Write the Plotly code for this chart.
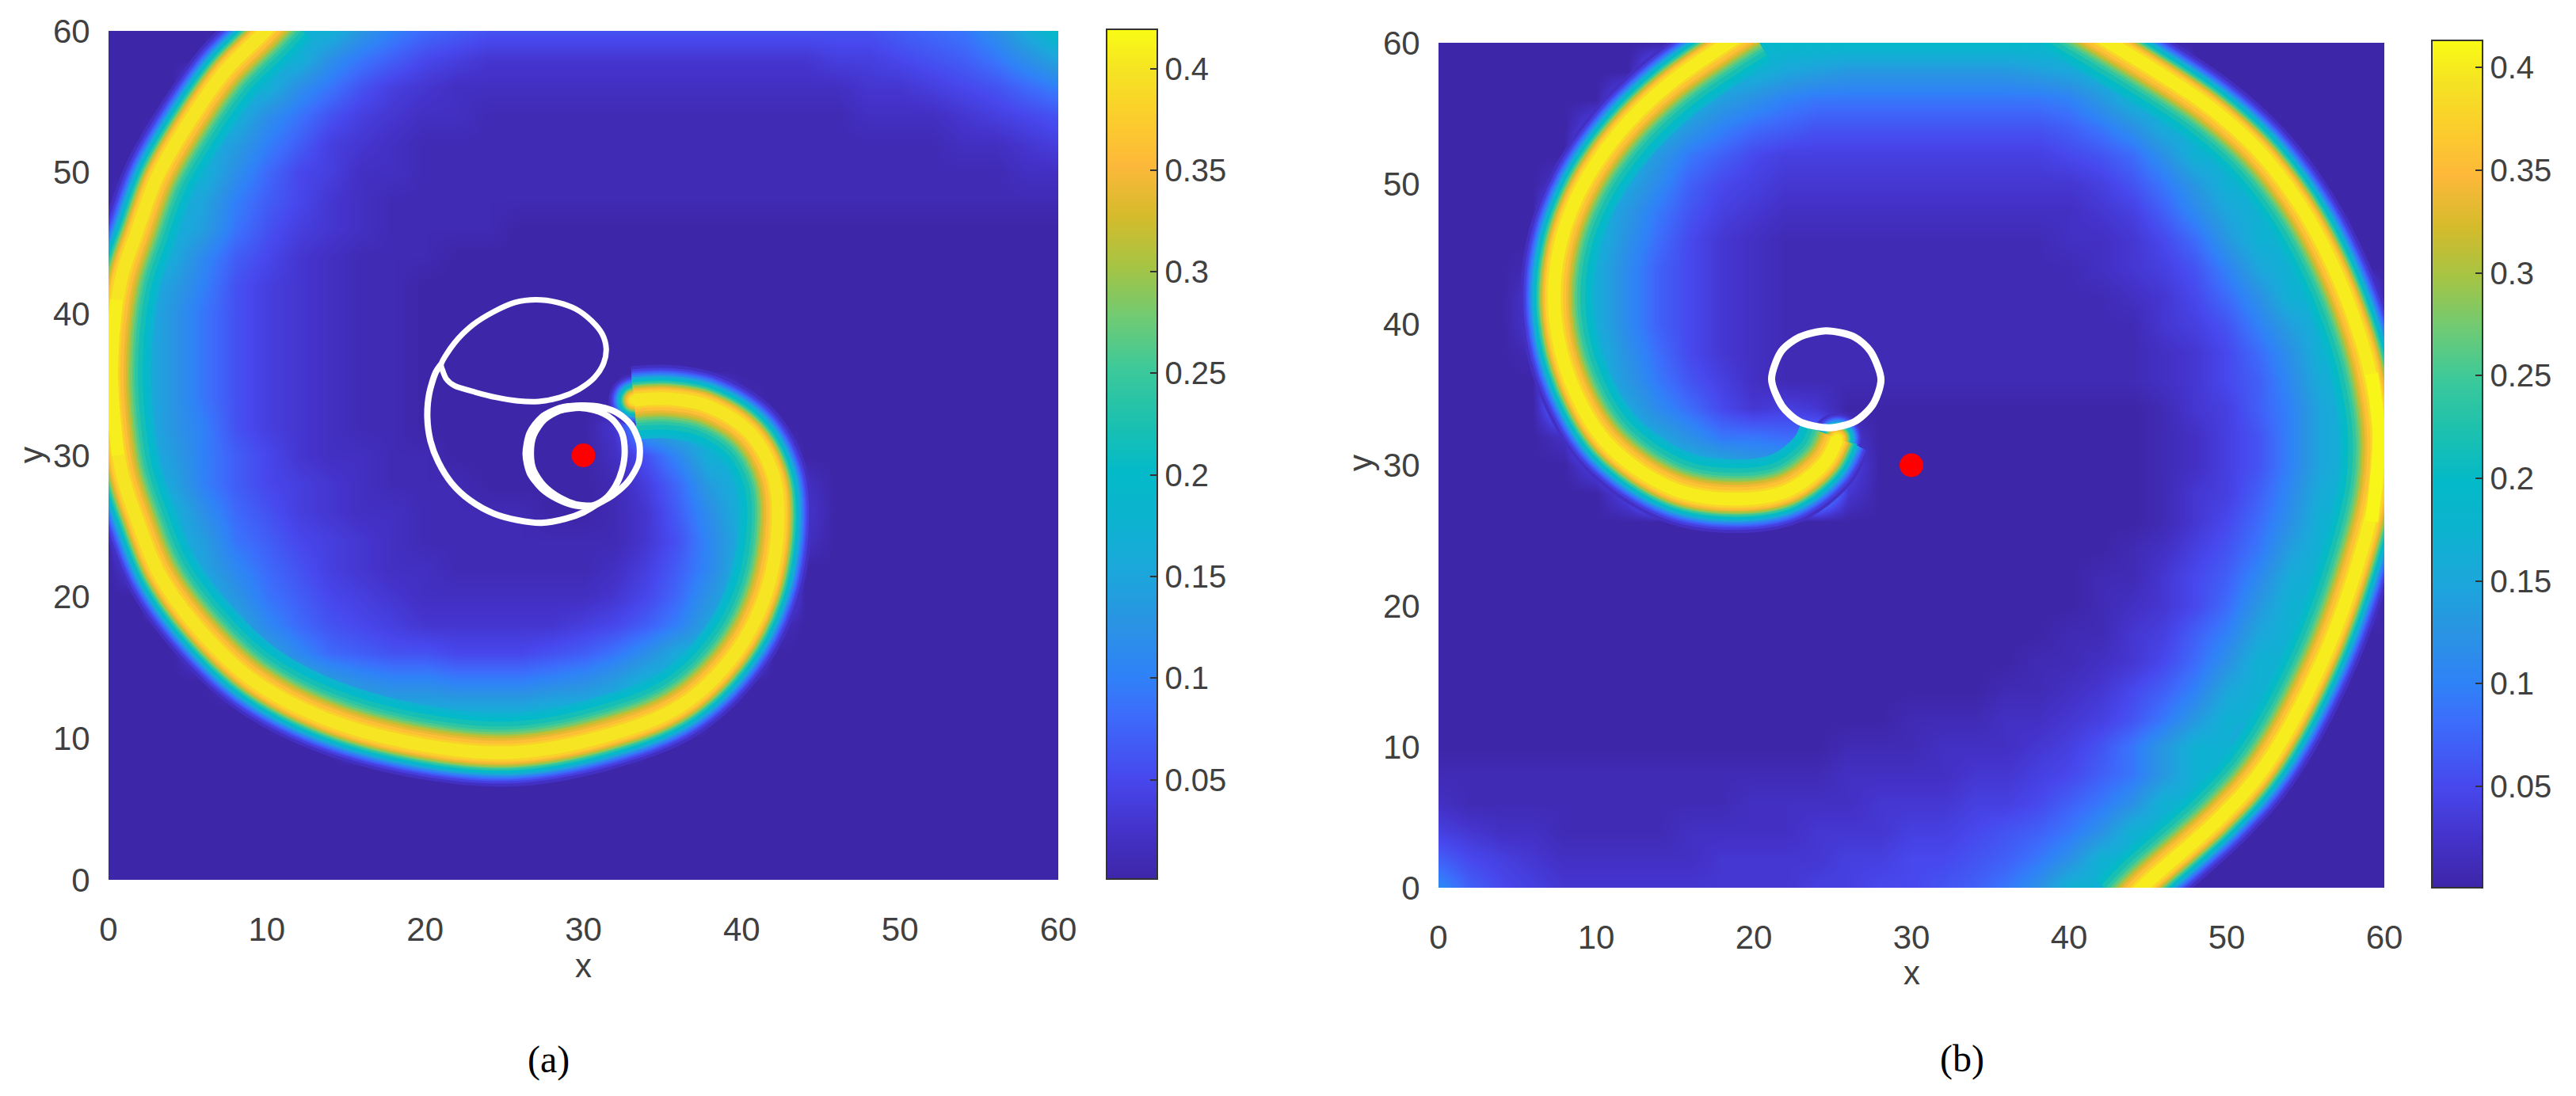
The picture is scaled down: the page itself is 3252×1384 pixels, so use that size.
"""Two spiral-wave snapshots, panels (a) and (b), with tip trajectories.

Ridge centre lines, tail values and trajectories are read off the picture by eye.
The colour field is a coarse heatmap for the tails, with the narrow ridge drawn
on top as stacked lines along its centre line (no formula for the field).
"""

import plotly.graph_objects as go
from plotly.colors import sample_colorscale

W, H = 3252, 1384
PAGE_MARGIN = 8  # the browser's default body margin
GRID = list(range(0, 61, 2))
TICKS = [0, 10, 20, 30, 40, 50, 60]
CBAR_TICKS = [0.05, 0.1, 0.15, 0.2, 0.25, 0.3, 0.35, 0.4]
CBAR_LABELS = ["0.05", "0.1", "0.15", "0.2", "0.25", "0.3", "0.35", "0.4"]

RANGE_A = (0.0012, 0.4193)
RANGE_B = (0.0006, 0.4133)

PARULA = [
    [0.00, "#3E26A8"], [0.06, "#4433CB"], [0.12, "#4748EE"], [0.20, "#3B6FFB"],
    [0.24, "#2F82F7"], [0.30, "#2A93E3"], [0.36, "#1CA6DB"], [0.42, "#0DB3D0"],
    [0.48, "#03BAC8"], [0.54, "#1DC1AE"], [0.60, "#3CC99A"], [0.66, "#6FCB74"],
    [0.72, "#A5C444"], [0.78, "#D5BB2C"], [0.84, "#FDB83A"], [0.90, "#FBCF2B"],
    [0.95, "#F5E323"], [1.00, "#F9FB15"],
]

# tail values in hundredths, rows from y=60 down to y=0, columns x=0,2,...,60
# (short rows: the rest of the row is the dark base value)
TAIL_A = [
    [0, 0, 0, 0, 0, 17, 17, 17, 13, 10, 8, 7, 6, 6, 6, 6, 6, 6, 6, 6, 6, 6, 6, 6, 6, 7, 8, 9, 12, 16, 20],
    [0, 0, 0, 0, 17, 17, 17, 12, 9, 7, 5, 4, 3, 3, 3, 3, 3, 3, 3, 3, 3, 3, 3, 4, 4, 5, 6, 7, 9, 12, 15],
    [0, 0, 0, 10, 17, 17, 12, 9, 6, 4, 3, 2, 2, 2, 2, 2, 2, 2, 2, 2, 2, 2, 2, 2, 3, 3, 4, 5, 6, 8, 10],
    [0, 0, 0, 17, 17, 12, 9, 6, 4, 3, 2, 2, 1, 1, 1, 1, 1, 1, 1, 1, 1, 1, 1, 1, 2, 2, 2, 3, 4, 5, 6],
    [0, 0, 10, 17, 14, 10, 7, 4, 3, 2, 1, 1, 1, 1, 1, 1, 1, 1, 1, 1, 1, 1, 1, 1, 1, 1, 1, 2, 2, 3, 4],
    [0, 0, 17, 17, 12, 8, 5, 4, 2, 2, 1, 1, 1, 1, 1, 1, 1, 1, 1, 1, 1, 1, 1, 1, 1, 1, 1, 1, 1, 2, 2],
    [0, 5, 17, 15, 10, 7, 5, 3, 2, 1, 1, 1, 1, 1, 1, 1, 1, 1, 1, 1, 1, 1, 1, 1, 1, 1, 1, 1, 1, 1, 1],
    [0, 10, 17, 14, 9, 6, 4, 3, 2, 1, 1, 1, 1],
    [5, 17, 16, 11, 7, 5, 3, 2, 1, 1, 1],
    [15, 17, 14, 10, 6, 4, 3, 2, 1, 1],
    [17, 17, 13, 9, 6, 4, 3, 2, 1, 1],
    [17, 17, 13, 9, 6, 4, 3, 2, 1, 1],
    [17, 17, 13, 9, 6, 4, 3, 2, 1, 1],
    [17, 17, 13, 9, 6, 4, 3, 2, 1, 1, 0, 0, 0, 0, 0, 0, 0, 10, 17, 10, 1],
    [17, 17, 13, 10, 6, 4, 3, 2, 1, 1, 0, 0, 0, 0, 0, 0, 3, 15, 17, 17, 8],
    [17, 17, 14, 10, 7, 5, 3, 2, 2, 1, 1, 0, 0, 0, 0, 0, 2, 6, 11, 17, 17, 5],
    [10, 17, 15, 10, 7, 5, 4, 3, 2, 1, 1, 1, 0, 0, 0, 0, 1, 4, 8, 14, 17, 17, 2],
    [3, 17, 17, 12, 8, 6, 4, 3, 2, 2, 1, 1, 1, 1, 0, 0, 1, 3, 7, 12, 17, 17, 3],
    [0, 17, 17, 14, 9, 7, 5, 4, 3, 2, 1, 1, 1, 1, 1, 1, 1, 3, 6, 11, 16, 17, 2],
    [0, 5, 17, 15, 11, 8, 6, 4, 3, 2, 2, 1, 1, 1, 1, 1, 2, 4, 7, 11, 17, 17],
    [0, 0, 15, 17, 13, 9, 7, 5, 4, 3, 2, 2, 2, 2, 2, 2, 3, 5, 8, 13, 17, 12],
    [0, 0, 0, 17, 16, 11, 8, 6, 5, 4, 3, 3, 3, 3, 3, 4, 5, 7, 10, 15, 17, 2],
    [0, 0, 0, 5, 17, 15, 11, 8, 7, 6, 6, 5, 5, 5, 6, 7, 9, 12, 16, 17, 10],
    [0, 0, 0, 0, 3, 17, 17, 14, 12, 11, 11, 10, 10, 10, 11, 12, 14, 17, 17, 10],
    [0, 0, 0, 0, 0, 0, 15, 17, 17, 16, 16, 16, 16, 16, 17, 17, 17, 17, 10],
    [0, 0, 0, 0, 0, 0, 0, 0, 10, 17, 17, 17, 17, 17, 17, 17, 10],
    [0], [0], [0], [0], [0],
]

TAIL_B = [
    [0, 0, 0, 0, 0, 0, 0, 0, 0, 17, 19, 19, 19, 19, 19, 19, 19, 19, 19, 19, 19, 17, 17],
    [0, 0, 0, 0, 0, 0, 0, 10, 17, 17, 17, 15, 14, 13, 13, 13, 13, 13, 13, 14, 15, 17, 17, 15],
    [0, 0, 0, 0, 0, 0, 8, 17, 17, 14, 12, 10, 9, 9, 9, 9, 9, 9, 9, 9, 10, 13, 17, 17, 15],
    [0, 0, 0, 0, 0, 6, 17, 17, 13, 10, 8, 7, 6, 6, 6, 6, 6, 6, 6, 6, 7, 9, 12, 16, 17, 12],
    [0, 0, 0, 0, 0, 15, 17, 13, 9, 7, 5, 4, 4, 4, 4, 4, 4, 4, 4, 4, 5, 6, 8, 12, 17, 17, 10],
    [0, 0, 0, 0, 3, 17, 15, 11, 7, 5, 4, 3, 3, 3, 3, 3, 3, 3, 3, 3, 3, 4, 6, 9, 13, 17, 17, 5],
    [0, 0, 0, 0, 15, 17, 13, 9, 6, 4, 3, 2, 2, 2, 2, 2, 2, 2, 2, 2, 2, 3, 4, 7, 11, 15, 17, 17],
    [0, 0, 0, 0, 17, 17, 12, 8, 5, 3, 2, 1, 1, 1, 1, 1, 1, 1, 1, 1, 2, 2, 3, 5, 8, 13, 17, 17, 12],
    [0, 0, 0, 1, 17, 16, 11, 7, 5, 3, 2, 1, 1, 1, 1, 1, 1, 1, 1, 1, 1, 2, 3, 4, 6, 10, 15, 17, 17],
    [0, 0, 0, 3, 17, 16, 11, 7, 5, 3, 2, 1, 1, 1, 1, 1, 1, 1, 1, 1, 1, 1, 2, 3, 5, 8, 12, 17, 17, 15],
    [0, 0, 0, 3, 17, 16, 11, 7, 5, 3, 2, 1, 1, 1, 1, 1, 1, 1, 1, 1, 1, 1, 1, 3, 4, 6, 10, 14, 17, 17, 3],
    [0, 0, 0, 1, 17, 17, 12, 8, 5, 3, 2, 1, 1, 1, 1, 1, 1, 1, 1, 1, 1, 1, 1, 2, 3, 5, 8, 12, 17, 17, 15],
    [0, 0, 0, 0, 17, 17, 13, 9, 6, 4, 2, 1, 1, 1, 1, 1, 1, 1, 1, 1, 1, 1, 1, 2, 3, 5, 7, 11, 16, 17, 17],
    [0, 0, 0, 0, 12, 17, 15, 11, 8, 5, 3, 4, 3, 0, 0, 0, 0, 0, 0, 0, 0, 0, 0, 1, 3, 4, 7, 10, 15, 17, 17],
    [0, 0, 0, 0, 2, 17, 17, 15, 12, 9, 9, 8, 9, 3, 0, 0, 0, 0, 0, 0, 0, 0, 0, 1, 2, 4, 6, 10, 15, 17, 17],
    [0, 0, 0, 0, 0, 5, 17, 17, 17, 16, 14, 14, 17, 5, 0, 0, 0, 0, 0, 0, 0, 0, 0, 1, 2, 4, 6, 10, 15, 17, 17],
    [0, 0, 0, 0, 0, 0, 5, 17, 17, 17, 17, 17, 17, 3, 0, 0, 0, 0, 0, 0, 0, 0, 0, 1, 3, 4, 7, 11, 16, 17, 17],
    [0, 0, 0, 0, 0, 0, 0, 0, 0, 0, 0, 0, 0, 0, 0, 0, 0, 0, 0, 0, 0, 0, 0, 1, 3, 5, 8, 12, 17, 17, 12],
    [0, 0, 0, 0, 0, 0, 0, 0, 0, 0, 0, 0, 0, 0, 0, 0, 0, 0, 0, 0, 0, 0, 1, 2, 4, 6, 9, 14, 17, 17, 3],
    [0, 0, 0, 0, 0, 0, 0, 0, 0, 0, 0, 0, 0, 0, 0, 0, 0, 0, 0, 0, 0, 1, 1, 3, 5, 7, 11, 16, 17, 17],
    [0, 0, 0, 0, 0, 0, 0, 0, 0, 0, 0, 0, 0, 0, 0, 0, 0, 0, 0, 0, 0, 1, 2, 3, 5, 8, 13, 17, 17, 5],
    [0, 0, 0, 0, 0, 0, 0, 0, 0, 0, 0, 0, 0, 0, 0, 0, 0, 0, 0, 0, 1, 1, 3, 4, 7, 10, 15, 17, 15],
    [0, 0, 0, 0, 0, 0, 0, 0, 0, 0, 0, 0, 0, 0, 0, 0, 0, 0, 0, 1, 1, 2, 3, 5, 8, 12, 17, 17, 5],
    [0, 0, 0, 0, 0, 0, 0, 0, 0, 0, 0, 0, 0, 0, 0, 0, 0, 0, 1, 1, 2, 3, 5, 7, 10, 15, 17, 15],
    [0, 0, 0, 0, 0, 0, 0, 0, 0, 0, 0, 0, 0, 0, 0, 1, 1, 1, 2, 2, 3, 4, 6, 9, 13, 17, 17, 5],
    [0, 0, 0, 0, 0, 0, 0, 0, 0, 0, 0, 0, 0, 1, 1, 1, 2, 2, 2, 3, 4, 6, 9, 13, 17, 17, 8],
    [1, 1, 1, 1, 1, 1, 1, 1, 1, 1, 1, 1, 1, 2, 2, 2, 2, 3, 3, 4, 5, 7, 9, 13, 17, 17],
    [2, 1, 1, 1, 1, 1, 1, 1, 1, 1, 2, 2, 2, 2, 3, 3, 3, 4, 4, 5, 7, 9, 12, 17, 17, 17],
    [4, 3, 2, 2, 1, 1, 1, 1, 2, 2, 2, 2, 3, 3, 3, 4, 4, 5, 6, 7, 9, 12, 17, 17, 5],
    [7, 5, 4, 3, 2, 2, 2, 2, 2, 3, 3, 3, 3, 4, 4, 5, 5, 6, 7, 9, 12, 17, 17, 17],
    [11, 7, 5, 4, 3, 3, 3, 3, 3, 3, 3, 3, 4, 4, 5, 5, 6, 7, 9, 12, 17, 17, 17, 15],
]

# ridge centre lines, from the tip outwards
RIDGE_A_X = [33.2, 35.3, 37.8, 40.5, 42.0, 42.3, 41.6, 39.65, 36.15, 31.15, 25.5, 20.0, 13.67,
             9.0, 5.5, 3.17, 1.83, 0.8, 0.2, 0.75, 1.83, 3.08, 5.0, 7.33, 9.83, 11.0]
RIDGE_A_Y = [33.9, 34.0, 33.5, 31.6, 28.6, 25.5, 20.5, 16.1, 12.3, 10.1, 9.0, 9.5, 11.4,
             14.2, 18.0, 21.7, 25.4, 29.0, 35.7, 42.2, 45.9, 49.7, 53.4, 57.1, 59.9, 61.3]
RIDGE_B1_X = [25.3, 24.5, 22.15, 19.0, 14.94, 10.75, 8.41, 7.4, 7.65, 9.08, 11.6, 14.6, 18.1, 19.8]
RIDGE_B1_Y = [31.9, 30.2, 28.2, 27.6, 28.3, 31.5, 35.9, 40.5, 45.3, 49.7, 53.8, 57.05, 59.8, 61.0]
RIDGE_B2_X = [38.5, 45.1, 48.95, 51.96, 54.47, 56.3, 57.8, 59.0, 59.65, 59.5, 58.5, 56.1, 52.46,
              49.53, 44.83, 43.5]
RIDGE_B2_Y = [62.7, 58.27, 55.4, 52.4, 48.8, 45.2, 41.3, 37.0, 32.3, 28.36, 23.68, 16.2, 8.68,
              4.93, 0.24, -1.3]

# where the crest is at its brightest
PEAK_A_X = [0.6, 0.2, 0.5]
PEAK_A_Y = [30.0, 35.7, 41.0]
PEAK_B_X = [59.2, 59.65, 59.2]
PEAK_B_Y = [36.5, 32.3, 26.0]

# tip trajectory, panel (a)
LOOP_X = [21.01, 21.84, 23.01, 24.35, 25.68, 27.02, 28.35, 29.52, 30.52, 31.19, 31.44, 31.28,
          30.69, 29.69, 28.52, 27.18, 25.85, 24.51, 23.18, 21.84, 21.34, 21.09, 21.01]
LOOP_Y = [36.42, 37.92, 39.22, 40.16, 40.81, 41.0, 40.81, 40.34, 39.5, 38.57, 37.54, 36.52,
          35.49, 34.65, 34.09, 33.81, 33.85, 34.09, 34.46, 34.93, 35.4, 36.05, 36.42]
ARC_X = [21.01, 20.67, 20.26, 20.14, 20.34, 20.84, 21.68, 22.84, 24.35, 25.85, 27.35, 28.85,
         30.02, 30.86, 31.86, 32.86, 33.5, 33.53, 33.03, 32.19, 31.02, 29.86, 28.52, 27.35,
         26.6, 26.35, 26.6, 27.35, 28.35, 29.52, 30.52, 31.36, 32.03, 32.44, 32.61, 32.44,
         31.86, 31.02, 29.86, 28.52, 27.52, 26.85, 26.68, 26.85, 27.52, 28.52, 29.52, 30.52]
ARC_Y = [36.42, 35.86, 34.37, 32.69, 31.01, 29.52, 28.03, 26.82, 25.88, 25.42, 25.23, 25.51,
         25.98, 26.54, 27.19, 28.21, 29.52, 30.83, 32.13, 32.97, 33.44, 33.53, 33.35, 32.69,
         31.57, 30.08, 28.77, 27.66, 26.91, 26.44, 26.44, 26.91, 27.84, 28.96, 30.27, 31.57,
         32.51, 33.07, 33.35, 33.16, 32.51, 31.39, 30.08, 28.96, 27.84, 27.0, 26.54, 26.44]

# tip trajectory, panel (b)
RING_X = [24.6, 26.4, 27.4, 28.07, 27.55, 26.4, 24.8, 22.9, 21.8, 21.13, 21.75, 22.9, 24.6]
RING_Y = [39.55, 39.1, 38.1, 36.1, 34.3, 33.1, 32.66, 33.1, 34.2, 36.1, 38.1, 39.1, 39.55]

DOT_X = [30]
DOT_Y = [30]

# ridge cross-section: how far (in px) each colour level reaches from the centre
# line on the outer and inner side; the wave front is steeper than its back
BAND_VALUES = [0.02, 0.04, 0.06, 0.08, 0.10, 0.12, 0.14, 0.16, 0.18, 0.20,
               0.22, 0.24, 0.26, 0.28, 0.30, 0.32, 0.34, 0.36, 0.38, 0.40]
BAND_OUTER = [43, 39, 36, 34, 32, 30, 29, 28, 26, 25,
              23, 22, 20, 19, 18, 16, 15, 13, 11, 8]
BAND_INNER = [30, 30, 30, 30, 30, 30, 30, 30, 50, 45,
              39, 33, 29, 26, 23, 21, 18, 15, 11, 8]

PX_PER_X = 20.0
PX_PER_Y = 17.87


def colour(value, vrange):
    frac = (value - vrange[0]) / (vrange[1] - vrange[0])
    return sample_colorscale(PARULA, [min(max(frac, 0), 1)])[0]


def tail_grid(rows):
    # top row first in the tables, heatmap wants y ascending
    out = []
    for row in reversed(rows):
        full = row + [0] * (len(GRID) - len(row))
        out.append([v / 100 for v in full])
    return out


def shifted(xs, ys, px):
    """Move a centre line sideways by px screen pixels, to the left of travel."""
    out_x, out_y = [], []
    n = len(xs)
    for i in range(n):
        a, b = max(i - 1, 0), min(i + 1, n - 1)
        dx = (xs[b] - xs[a]) * PX_PER_X
        dy = (ys[b] - ys[a]) * PX_PER_Y
        norm = (dx * dx + dy * dy) ** 0.5
        out_x.append(xs[i] + (-dy / norm) * px / PX_PER_X)
        out_y.append(ys[i] + (dx / norm) * px / PX_PER_Y)
    return out_x, out_y


def add_ridge(fig, xs, ys, vrange, xaxis, yaxis):
    for value, outer, inner in zip(BAND_VALUES, BAND_OUTER, BAND_INNER):
        col = colour(value, vrange)
        bx, by = shifted(xs, ys, (outer - inner) / 2)
        fig.add_trace(
            go.Scatter(
                x=bx, y=by, mode="lines",
                line=dict(color=col, width=outer + inner, shape="spline", smoothing=1.0),
                xaxis=xaxis, yaxis=yaxis, showlegend=False, hoverinfo="skip",
            )
        )
        # rounded tip of this level, on the centre line
        fig.add_trace(
            go.Scatter(
                x=xs[:1], y=ys[:1], mode="markers",
                marker=dict(color=col, size=1.5 * outer, line=dict(width=0)),
                xaxis=xaxis, yaxis=yaxis, showlegend=False, hoverinfo="skip",
            )
        )


def add_path(fig, xs, ys, width, xaxis, yaxis):
    fig.add_trace(
        go.Scatter(
            x=xs, y=ys, mode="lines",
            line=dict(color="white", width=width, shape="spline", smoothing=0.8),
            xaxis=xaxis, yaxis=yaxis, showlegend=False, hoverinfo="skip",
        )
    )


def add_peak(fig, xs, ys, vrange, xaxis, yaxis):
    fig.add_trace(
        go.Scatter(
            x=xs, y=ys, mode="lines",
            line=dict(color=colour(0.408, vrange), width=16, shape="spline"),
            xaxis=xaxis, yaxis=yaxis, showlegend=False, hoverinfo="skip",
        )
    )


def add_dot(fig, xaxis, yaxis):
    fig.add_trace(
        go.Scatter(
            x=DOT_X, y=DOT_Y, mode="markers",
            marker=dict(color="#FF0000", size=30, line=dict(width=0)),
            xaxis=xaxis, yaxis=yaxis, showlegend=False, hoverinfo="skip",
        )
    )


def frac_x(px):
    return (px - PAGE_MARGIN) / W


def frac_y(px):
    return 1 - (px - PAGE_MARGIN) / H


def heatmap(rows, vrange, xaxis, yaxis, bar_left, bar_top, bar_bottom):
    return go.Heatmap(
        x=GRID, y=GRID, z=tail_grid(rows), zsmooth="best",
        zmin=vrange[0], zmax=vrange[1], colorscale=PARULA,
        xaxis=xaxis, yaxis=yaxis, hoverinfo="skip",
        colorbar=dict(
            x=frac_x(bar_left), xanchor="left", xpad=0,
            y=frac_y(bar_top), yanchor="top", ypad=0,
            len=(bar_bottom - bar_top) / H, lenmode="fraction",
            thickness=64, thicknessmode="pixels",
            outlinecolor="#333333", outlinewidth=2,
            ticks="inside", ticklen=10, tickwidth=2, tickcolor="#333333",
            tickvals=CBAR_TICKS, ticktext=CBAR_LABELS,
            tickfont=dict(family="Liberation Sans", size=40, color="#404040"),
        ),
    )


def axis(domain, anchor, ticklen):
    return dict(
        domain=domain, anchor=anchor, range=[0, 60], automargin=False,
        tickvals=TICKS, ticks="outside", ticklen=ticklen, tickcolor="rgba(0,0,0,0)",
        showgrid=False, zeroline=False, showline=False,
        tickfont=dict(family="Liberation Sans", size=42, color="#404040"),
    )


def label(text, x, y, size=42, family="Liberation Sans", color="#404040", angle=0):
    return dict(text=text, xref="paper", yref="paper", x=frac_x(x), y=frac_y(y), textangle=angle,
                xanchor="center", yanchor="middle",
                showarrow=False, font=dict(family=family, size=size, color=color))


fig = go.Figure()

fig.add_trace(heatmap(TAIL_A, RANGE_A, "x", "y", 1397, 37, 1110))
add_ridge(fig, RIDGE_A_X, RIDGE_A_Y, RANGE_A, "x", "y")
add_peak(fig, PEAK_A_X, PEAK_A_Y, RANGE_A, "x", "y")
add_path(fig, LOOP_X, LOOP_Y, 7, "x", "y")
add_path(fig, ARC_X, ARC_Y, 8, "x", "y")
add_dot(fig, "x", "y")

fig.add_trace(heatmap(TAIL_B, RANGE_B, "x2", "y2", 3070, 51, 1121))
add_ridge(fig, RIDGE_B1_X, RIDGE_B1_Y, RANGE_B, "x2", "y2")
add_ridge(fig, RIDGE_B2_X, RIDGE_B2_Y, RANGE_B, "x2", "y2")
add_peak(fig, PEAK_B_X, PEAK_B_Y, RANGE_B, "x2", "y2")
add_path(fig, RING_X, RING_Y, 9, "x2", "y2")
add_dot(fig, "x2", "y2")

fig.update_layout(
    width=W, height=H, margin=dict(l=0, r=0, t=0, b=0),
    paper_bgcolor="white", plot_bgcolor="white", showlegend=False,
    xaxis=axis([frac_x(137), frac_x(1336)], "y", 26),
    yaxis=axis([frac_y(1111), frac_y(39)], "x", 14),
    xaxis2=axis([frac_x(1816), frac_x(3010)], "y2", 26),
    yaxis2=axis([frac_y(1121), frac_y(54)], "x2", 14),
    annotations=[
        label("x", 736, 1219),
        label("y", 39, 574, angle=-90),
        label("x", 2413, 1228),
        label("y", 1717, 585, angle=-90),
        label("(a)", 692, 1338, size=48, family="Liberation Serif", color="black"),
        label("(b)", 2477, 1337, size=48, family="Liberation Serif", color="black"),
    ],
)

fig.write_html("out.html")
